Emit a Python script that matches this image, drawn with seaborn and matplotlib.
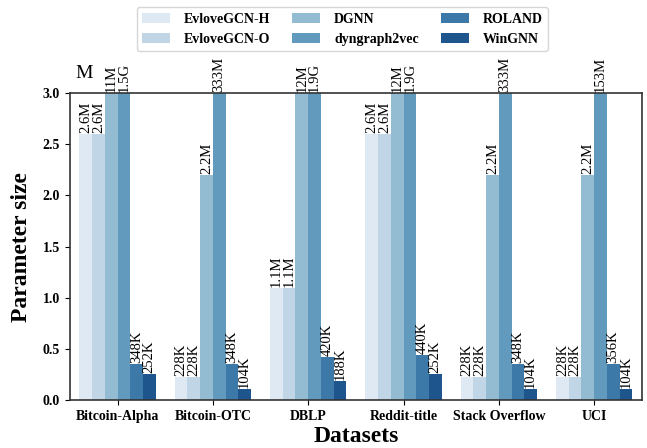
import matplotlib
matplotlib.use("Agg")
import matplotlib.pyplot as plt
import seaborn as sns
import pandas as pd

# Parameter counts in millions (M)
datasets = ["Bitcoin-Alpha", "Bitcoin-OTC", "DBLP", "Reddit-title", "Stack Overflow", "UCI"]
models = ["EvloveGCN-H", "EvloveGCN-O", "DGNN", "dyngraph2vec", "ROLAND", "WinGNN"]

evolvegcn_h = [2.6, 0.228, 1.1, 2.6, 0.228, 0.228]
evolvegcn_o = [2.6, 0.228, 1.1, 2.6, 0.228, 0.228]
dgnn = [11, 2.2, 12, 12, 2.2, 2.2]
dyngraph2vec = [1500, 333, 1900, 1900, 333, 153]
roland = [0.348, 0.348, 0.420, 0.440, 0.348, 0.356]
wingnn = [0.252, 0.104, 0.188, 0.252, 0.104, 0.104]

y_max = 3.0
y_ticks = [0.0, 0.5, 1.0, 1.5, 2.0, 2.5, 3.0]

series = [evolvegcn_h, evolvegcn_o, dgnn, dyngraph2vec, roland, wingnn]
rows = []
for model, vals in zip(models, series):
    for ds, v in zip(datasets, vals):
        rows.append({"Dataset": ds, "Model": model, "Params": v})
df = pd.DataFrame(rows)


def fmt(v):
    """Format a value in millions as K / M / G."""
    if v >= 1000:
        return f"{v / 1000:g}G"
    if v >= 1:
        return f"{v:g}M"
    return f"{round(v * 1000)}K"


serif = ["Liberation Serif", "DejaVu Serif"]
plt.rcParams["font.family"] = serif

fig = plt.figure(figsize=(6.47, 4.48), dpi=100)
ax = fig.add_axes([0.108, 0.107, 0.884, 0.685])

sns.barplot(data=df, x="Dataset", y="Params", hue="Model", order=datasets,
            hue_order=models, palette="Blues", ax=ax, width=0.8, legend=True)

ax.set_ylim(0, y_max)
ax.set_yticks(y_ticks)
ax.set_yticklabels([f"{t:.1f}" for t in y_ticks])

# Value labels above each bar (bars taller than the axis are labelled at the top)
for container, model in zip(ax.containers, models):
    vals = df[df["Model"] == model].set_index("Dataset").loc[datasets, "Params"].tolist()
    for patch, v in zip(container.patches, vals):
        x = patch.get_x() + patch.get_width() / 2
        y = min(patch.get_height(), y_max)
        ax.text(x, y + 0.01, fmt(v), rotation=90, ha="center", va="bottom",
                fontsize=10.5, clip_on=False)

ax.text(0.009, 1.036, "M", transform=ax.transAxes, fontsize=14,
        ha="left", va="bottom")

ax.set_xlabel("Datasets", fontsize=17, fontweight="bold", labelpad=2)
ax.set_ylabel("Parameter size", fontsize=17, fontweight="bold", labelpad=8)
for lab in ax.get_xticklabels() + ax.get_yticklabels():
    lab.set_fontweight("bold")
    lab.set_fontsize(10)

for sp in ax.spines.values():
    sp.set_color("#333333")
    sp.set_linewidth(1.2)

handles, labels = ax.get_legend_handles_labels()
ax.legend_.remove()
fig.legend(handles, labels, ncol=3, loc="upper center",
           bbox_to_anchor=(0.529, 0.984), borderaxespad=0.0,
           frameon=True, fancybox=True,
           prop={"family": serif, "weight": "bold", "size": 10},
           handlelength=2.0, handleheight=0.75, handletextpad=1.0,
           columnspacing=1.6, borderpad=0.4, labelspacing=0.5,
           edgecolor="#cccccc")

fig.savefig("out.png", dpi=100)
